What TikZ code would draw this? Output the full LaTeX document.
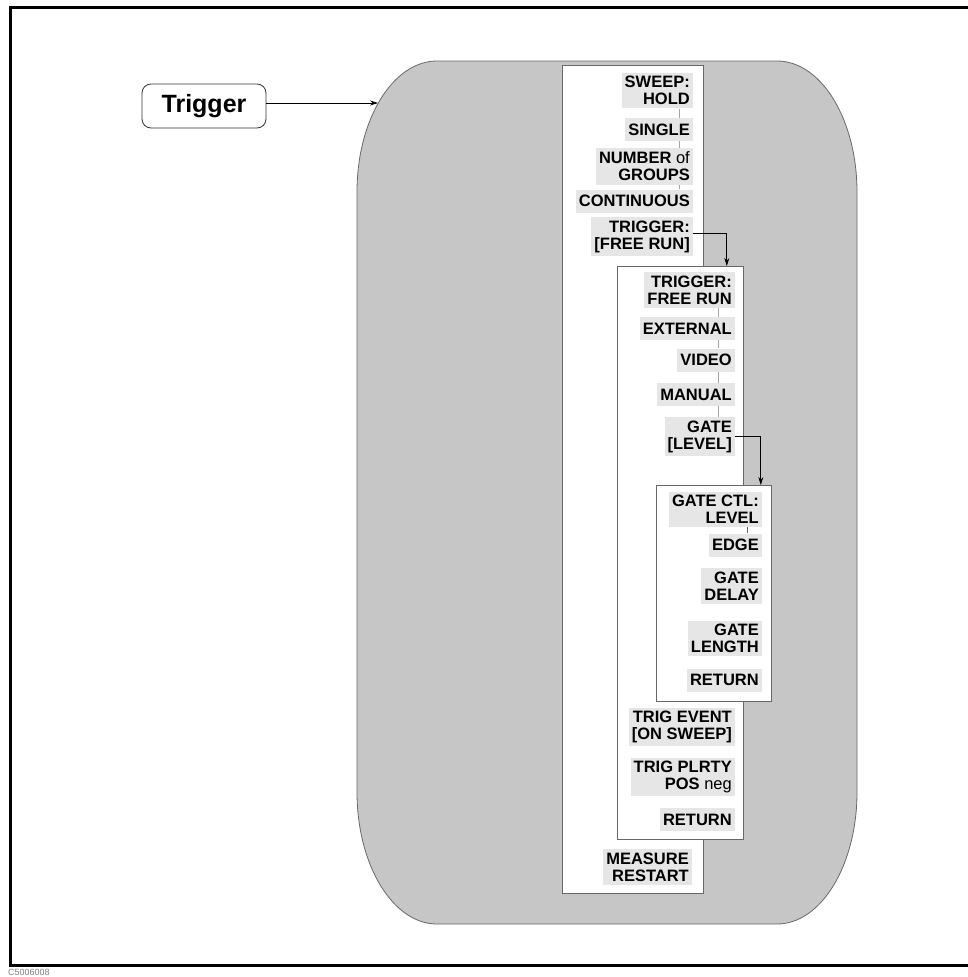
\documentclass[tikz,border=0pt]{standalone}
\usepackage{fontspec}
\setmainfont{Liberation Sans}
\usepackage{tikz}
\usetikzlibrary{arrows.meta,positioning,calc}
\definecolor{panelgray}{RGB}{198,198,198}
\definecolor{keygray}{RGB}{230,230,230}
\definecolor{edgegray}{RGB}{105,105,105}

\begin{document}
\begin{tikzpicture}[x=1pt, y=-1pt]
    \tikzstyle{menubox} = [draw=edgegray, fill=white, line width=0.8pt, inner sep=0pt, anchor=north west]
    \tikzstyle{skey} = [fill=keygray, inner xsep=3pt, inner ysep=3.5pt, minimum height=23pt, anchor=east, align=right, font=\fontsize{16.5}{17}\selectfont\bfseries]
    \tikzstyle{radio} = [edgegray!60, line width=0.8pt]
    \tikzstyle{link} = [line width=0.7pt, -{Stealth[length=8pt, width=5pt]}]

    \useasboundingbox (0,0) rectangle (967,977);
    \draw[line width=3pt] (10,7.5) rectangle (995,965);
    \node[anchor=west, text=gray, inner sep=0pt, font=\fontsize{9}{10}\selectfont] (figid) at (8,972) {C5006008};

    % key and menu panel
    \node[draw=black!80, line width=0.8pt, rounded corners=9pt, minimum width=124pt, minimum height=44pt, font=\fontsize{25}{28}\selectfont\bfseries] (trigger) at (204,106) {Trigger};
    \draw[draw=edgegray, fill=panelgray, line width=0.8pt] (357,192) .. controls (357,119.6) and (392.8,61) .. (437,61) -- (777,61)
        .. controls (821.2,61) and (857,119.6) .. (857,192) -- (857,792)
        .. controls (857,864.9) and (821.2,924) .. (777,924) -- (437,924)
        .. controls (392.8,924) and (357,864.9) .. (357,792) -- cycle;
    \coordinate (entry) at (378,103);
    \draw[link] ([yshift=3pt]trigger.east) -- (entry);

    \node[menubox, minimum width=141pt, minimum height=828pt] (mainmenu) at (562,65) {};
    \node[menubox, minimum width=126pt, minimum height=573pt] (trigmenu) at (617,266) {};
    \node[menubox, minimum width=115pt, minimum height=216pt] (gatemenu) at (656,485) {};

    % main column
    \node[skey] (sweep) at (693,90.5) {SWEEP:\\HOLD};
    \node[skey] (single) at (693,129.5) {SINGLE};
    \node[skey] (numgrp) at (693,166.5) {NUMBER {\mdseries of}\\GROUPS};
    \node[skey] (cont) at (693,201) {CONTINUOUS};
    \node[skey] (trig) at (693,236.5) {TRIGGER:\\{[}FREE RUN{]}};
    \node[skey] (measure) at (692,867) {MEASURE\\RESTART};

    % trigger menu
    \node[skey] (freerun) at (735,290) {TRIGGER:\\FREE RUN};
    \node[skey] (external) at (735,328.5) {EXTERNAL};
    \node[skey] (video) at (735,360) {VIDEO};
    \node[skey] (manual) at (735,394.5) {MANUAL};
    \node[skey] (gate) at (735,436.5) {GATE\\{[}LEVEL{]}};
    \node[skey] (tevent) at (735,727) {TRIG EVENT\\{[}ON SWEEP{]}};
    \node[skey] (tplrty) at (735,777) {TRIG PLRTY\\POS {\mdseries neg}};
    \node[skey] (trigret) at (735,819.5) {RETURN};

    % gate menu
    \node[skey] (gatectl) at (762,509.5) {GATE CTL:\\LEVEL};
    \node[skey] (edge) at (762,545) {EDGE};
    \node[skey] (gdelay) at (762,586) {GATE\\DELAY};
    \node[skey] (glength) at (762,638.5) {GATE\\LENGTH};
    \node[skey] (gateret) at (762,680) {RETURN};

    \draw[radio] ([xshift=-14pt]sweep.south east) -- ([xshift=-14pt]single.north east);
    \draw[radio] ([xshift=-14pt]single.south east) -- ([xshift=-14pt]numgrp.north east);
    \draw[radio] ([xshift=-14pt]numgrp.south east) -- ([xshift=-14pt]cont.north east);
    \draw[radio] ([xshift=-17pt]freerun.south east) -- ([xshift=-17pt]external.north east);
    \draw[radio] ([xshift=-17pt]external.south east) -- ([xshift=-17pt]video.north east);
    \draw[radio] ([xshift=-17pt]video.south east) -- ([xshift=-17pt]manual.north east);
    \draw[radio] ([xshift=-17pt]manual.south east) -- ([xshift=-17pt]gate.north east);
    \draw[radio, edgegray] ([xshift=-15pt]gatectl.south east) -- ([xshift=-15pt]edge.north east);

    \draw[link] ([yshift=3.5pt]trig.east) -| ([xshift=-17pt]trigmenu.north east);
    \draw[link] (gate.east) -| ([xshift=-11pt]gatemenu.north east);
\end{tikzpicture}
\end{document}
